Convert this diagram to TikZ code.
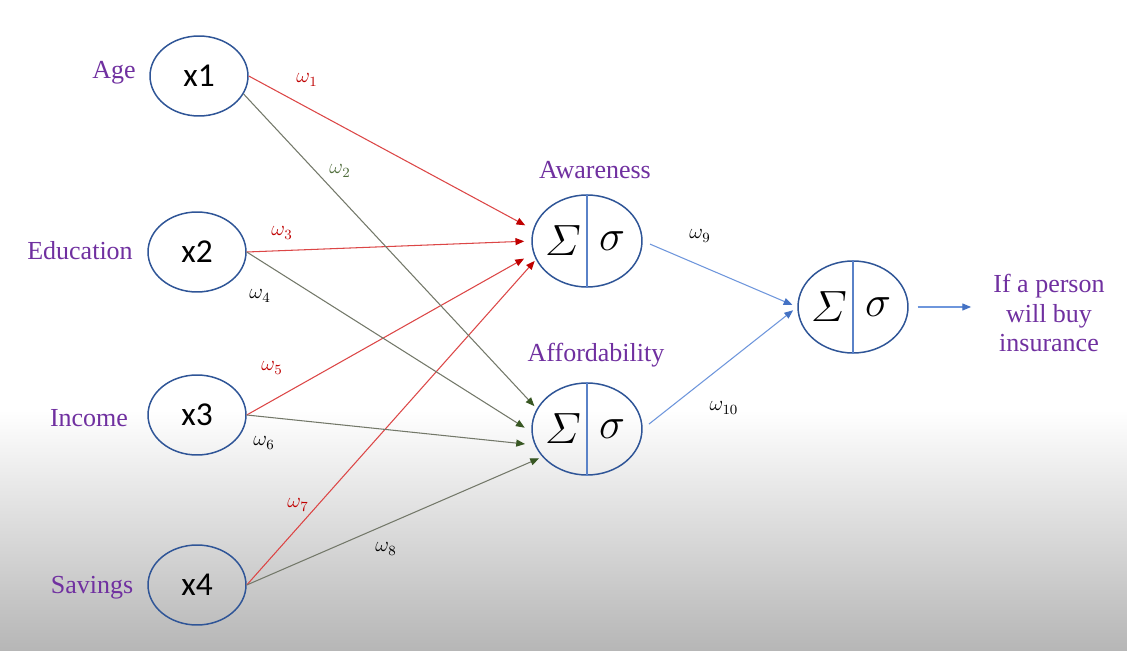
\documentclass[tikz,border=0pt]{standalone}
\usepackage{amsmath}
\usepackage{fontspec}
\setmainfont{Liberation Serif}
\newfontfamily\calibri{Carlito}
\usetikzlibrary{shapes.geometric, arrows.meta}
\definecolor{lblpurple}{RGB}{112,48,160}
\definecolor{nborder}{RGB}{47,85,151}
\definecolor{divblue}{RGB}{90,130,200}
\definecolor{lred}{RGB}{220,70,70}
\definecolor{tred}{RGB}{192,0,0}
\definecolor{lgray}{RGB}{115,120,105}
\definecolor{tgreen}{RGB}{56,87,35}
\definecolor{wgreen}{RGB}{80,110,60}
\definecolor{lblue}{RGB}{110,150,220}
\definecolor{tblue}{RGB}{68,114,196}
\definecolor{bgbot}{RGB}{182,182,182}

\begin{document}
\begin{tikzpicture}[x=0.02cm, y=-0.02cm, inp/.style={draw=nborder, ellipse, minimum width=1.96cm, minimum height=1.6cm, line width=0.85pt, font=\calibri\fontsize{19}{22}\selectfont}, neu/.style={draw=nborder, ellipse, minimum width=2.2cm, minimum height=1.84cm, line width=0.85pt}, sym/.style={font=\fontsize{24.88}{30}\selectfont}, lbl/.style={text=lblpurple, font=\fontsize{14.8}{17}\selectfont}, wt/.style={font=\fontsize{12}{14}\selectfont}, r/.style={draw=lred, line width=0.6pt, -{Triangle[length=5pt, width=4pt, color=tred]}}, g/.style={draw=lgray, line width=0.6pt, -{Triangle[length=5pt, width=4pt, color=tgreen]}}, b/.style={draw=lblue, line width=0.6pt, -{Triangle[length=5pt, width=4pt, color=tblue]}}]
            % background
            \useasboundingbox (0,0) rectangle (1127,651);
            \fill[white] (0,0) rectangle (1127,410);
            \shade[top color=white, bottom color=bgbot] (0,410) rectangle (1127,651);
            % nodes
            \node[inp] (x1) at (199,76) {x1};
            \node[inp] (x2) at (197,252) {x2};
            \node[inp] (x3) at (197,415) {x3};
            \node[inp] (x4) at (197,585) {x4};
            \node[neu] (aw) at (587,241) {};
            \node[neu] (af) at (587,429) {};
            \node[neu] (out) at (853,307) {};
            \draw[divblue, line width=0.6pt] (aw.north) -- (aw.south);
            \draw[divblue, line width=0.6pt] (af.north) -- (af.south);
            \draw[divblue, line width=0.6pt] (out.north) -- (out.south);
            \node[sym] (awsum) at ([xshift=-0.48cm]aw.center) {$\varSigma$};
            \node[sym] (awsig) at ([xshift=0.5cm]aw.center) {$\sigma$};
            \node[sym] (afsum) at ([xshift=-0.48cm]af.center) {$\varSigma$};
            \node[sym] (afsig) at ([xshift=0.5cm]af.center) {$\sigma$};
            \node[sym] (outsum) at ([xshift=-0.48cm]out.center) {$\varSigma$};
            \node[sym] (outsig) at ([xshift=0.5cm]out.center) {$\sigma$};
            % labels
            \node[lbl] (age) at (114,73) {Age};
            \node[lbl] (edu) at (80,251) {Education};
            \node[lbl] (inc) at (89,418) {Income};
            \node[lbl] (sav) at (92,588) {Savings};
            \node[lbl] (awl) at (595,170) {Awareness};
            \node[lbl] (afl) at (596,355) {Affordability};
            \node[lbl, align=center, inner sep=0pt] (dec) at (1049,313) {If a person\\will buy\\insurance};
            % weights
            \node[wt, text=tred] (w1) at (307,80) {$\omega_1$};
            \node[wt, text=wgreen] (w2) at (340,171) {$\omega_2$};
            \node[wt, text=tred] (w3) at (282,233) {$\omega_3$};
            \node[wt] (w4) at (260,296) {$\omega_4$};
            \node[wt, text=tred] (w5) at (272,368) {$\omega_5$};
            \node[wt] (w6) at (264,443) {$\omega_6$};
            \node[wt, text=tred] (w7) at (298,505) {$\omega_7$};
            \node[wt] (w8) at (386,549) {$\omega_8$};
            \node[wt] (w9) at (700,236) {$\omega_9$};
            \node[wt] (w10) at (724,408) {$\omega_{10}$};
            % edges
            \draw [r, shorten >=5pt] (x1.east) -- (aw.168);
            \draw [r, shorten >=4pt] (x2.east) -- (aw.180);
            \draw [r, shorten >=6pt] (x3.east) -- (aw.193);
            \draw [r, shorten >=1pt] (x4.east) -- (aw.200);
            \draw [g, shorten >=2pt] (x1.-22) -- (af.158);
            \draw [g, shorten >=4.5pt] (x2.east) -- (af.183);
            \draw [g, shorten >=5.5pt] (x3.east) -- (af.197);
            \draw [g, shorten >=2pt] (x4.east) -- (af.212);
            \draw [b, shorten <=4.5pt, shorten >=3pt] (aw.east) -- (out.west);
            \draw [b, shorten <=4.5pt, shorten >=3pt] (af.east) -- (out.west);
            \draw [b, shorten <=5pt, shorten >=12.5pt] (out.east) -- (out.east -| dec.west);
        \end{tikzpicture}
\end{document}
